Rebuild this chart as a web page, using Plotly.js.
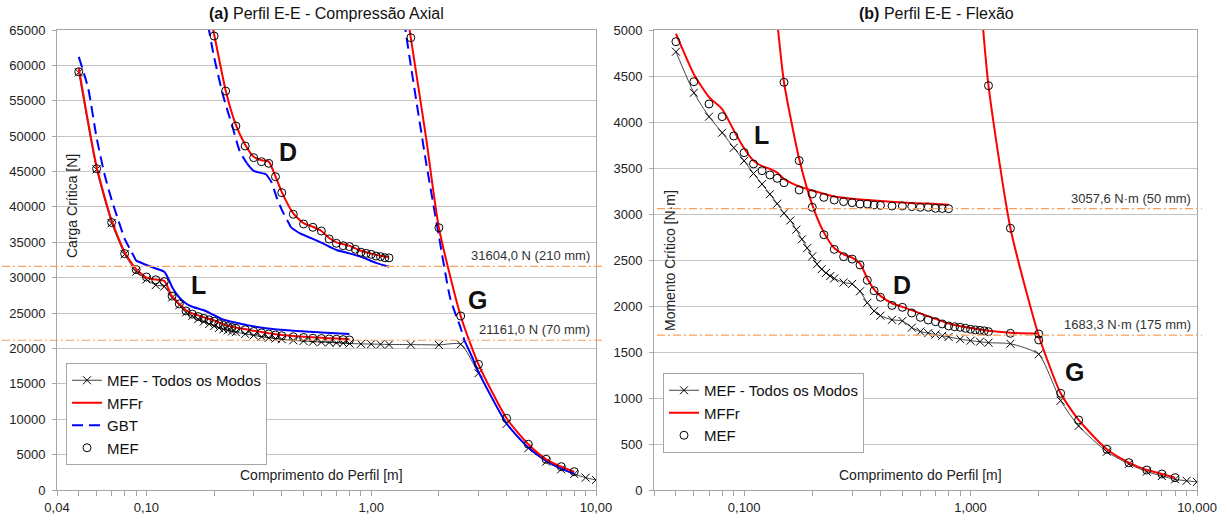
<!DOCTYPE html>
<html><head><meta charset="utf-8">
<script src="https://cdn.plot.ly/plotly-3.0.1.min.js"></script>
<style>html,body{margin:0;padding:0;background:#fff}#chart{width:1227px;height:520px}</style>
</head><body><div id="chart"></div>
<script>
// ===== (a) Perfil E-E - Compressão Axial =====
const aAllX = [0.05,0.06,0.07,0.08,0.09,0.10,0.11,0.12,0.13,0.14,0.15,0.16,0.17,0.18,0.19,0.20,0.21,0.22,0.23,0.24,0.25,0.275,0.30,0.325,0.35,0.375,0.40,0.45,0.50,0.55,0.60,0.65,0.70,0.75,0.80,0.90,1.0,1.1,1.2,1.5,2.0,2.5,3,4,5,6,7,8,9,10];
const aAllY = [59000,45300,37700,33300,30850,29750,28950,28750,27200,26100,25100,24600,24150,23800,23450,23150,22900,22700,22550,22400,22300,22050,21850,21650,21500,21400,21300,21150,21050,20950,20900,20850,20800,20750,20700,20650,20620,20600,20560,20550,20500,20600,16500,9330,5900,4000,2920,2260,1740,1420];

const aMefLX = [0.05,0.06,0.07,0.08,0.09,0.10,0.11,0.12,0.13,0.14,0.15,0.16,0.17,0.18,0.19,0.20,0.21,0.22,0.23,0.24,0.25,0.275,0.30,0.325,0.35,0.375,0.40,0.45,0.50,0.55,0.60,0.65,0.70,0.75,0.80];
const aMefLY = [59100,45400,37800,33400,31150,30100,29700,29450,27400,26300,25300,24850,24500,24250,24050,23850,23500,23250,23100,22950,22850,22650,22400,22200,22050,21900,21800,21650,21550,21450,21400,21350,21300,21250,21200];
const aMffrLX = [0.05,0.06,0.07,0.08,0.09,0.10,0.11,0.12,0.13,0.14,0.15,0.16,0.18,0.20,0.22,0.25,0.30,0.35,0.40,0.50,0.60,0.70,0.80];
const aMffrLY = [59600,45700,38100,33600,31200,30000,29750,29550,27350,26300,25400,24950,24400,23950,23400,22950,22500,22150,21900,21650,21500,21400,21300];
const aGbtLX = [0.05,0.055,0.06,0.065,0.07,0.075,0.08,0.085,0.09,0.10,0.11,0.12,0.125,0.13,0.14,0.15,0.16,0.18,0.20,0.22,0.25,0.28,0.34,0.45,0.63,0.80];
const aGbtLY = [61200,56800,49800,44700,41000,38100,35500,33900,32400,31800,31300,30850,29900,28700,27200,26350,25900,25400,24700,24050,23650,23300,22850,22500,22230,22040];

const aMefDX = [0.2,0.225,0.25,0.275,0.3,0.325,0.35,0.375,0.4,0.45,0.5,0.55,0.6,0.65,0.7,0.75,0.8,0.85,0.9,0.95,1.0,1.05,1.1,1.15,1.2];
const aMefDY = [64150,56380,51430,48610,46960,46390,46160,44270,42010,38960,37590,37120,36600,35470,34860,34520,34400,34010,33600,33440,33300,33060,32970,32820,32800];
const aMffrDX = [0.19,0.2,0.225,0.25,0.275,0.3,0.325,0.35,0.375,0.4,0.45,0.5,0.55,0.6,0.65,0.7,0.8,0.9,1.0,1.1,1.2];
const aMffrDY = [67500,64400,56500,51600,48800,47100,46600,46400,44300,42100,39100,37700,37200,36600,35600,35000,34500,33800,33400,33100,32900];
const aGbtDX = [0.188,0.2,0.22,0.24,0.26,0.28,0.3,0.34,0.36,0.38,0.4,0.44,0.48,0.53,0.6,0.7,0.8,0.9,1.05,1.2];
const aGbtDY = [65700,61150,55570,51600,47900,46160,45100,44650,43500,41300,39600,37100,36300,35700,34950,33910,33440,32950,32100,31550];

const aMefGX = [1.5,2,2.5,3,4,5,6,7,8];
const aMefGY = [63910,37060,24590,17760,10130,6460,4340,3300,2590];
const aMffrGX = [1.45,1.5,1.75,2,2.5,3,4,5,6,7,8];
const aMffrGY = [67000,63900,50000,37060,24590,17760,10130,6460,4340,3300,2590];
const aGbtGX = [1.4,1.5,1.75,2,2.25,2.5,2.6,2.8,3,4,5,6,7,8];
const aGbtGY = [66300,60000,46500,35900,27000,22900,21100,18900,16700,9400,6000,4150,3050,2300];

const aRefY = [31604, 21161];
const aRefLabels = ["31604,0 N (210 mm)", "21161,0 N (70 mm)"];

// ===== (b) Perfil E-E - Flexão =====
const bAllX = [0.05,0.06,0.07,0.08,0.09,0.10,0.11,0.12,0.13,0.14,0.15,0.16,0.17,0.18,0.19,0.20,0.21,0.22,0.23,0.24,0.25,0.275,0.30,0.325,0.35,0.375,0.40,0.45,0.50,0.55,0.60,0.65,0.70,0.75,0.80,0.90,1.0,1.1,1.2,1.5,2.0,2.5,3,4,5,6,7,8,9,10];
const bAllY = [4764,4318,4058,3884,3720,3578,3440,3325,3215,3112,3008,2930,2830,2725,2630,2540,2455,2400,2360,2325,2300,2255,2240,2160,2035,1945,1895,1850,1838,1765,1722,1705,1690,1676,1664,1640,1623,1612,1601,1590,1475,971,696,416,283,199,152,116,100,88];

const bMefLX = [0.05,0.06,0.07,0.08,0.09,0.10,0.11,0.12,0.13,0.14,0.15,0.175,0.2,0.225,0.25,0.275,0.3,0.325,0.35,0.375,0.4,0.45,0.5,0.55,0.6,0.65,0.7,0.75,0.8];
const bMefLY = [4873,4438,4196,4058,3848,3667,3544,3471,3424,3388,3340,3261,3218,3181,3152,3134,3123,3109,3109,3098,3094,3087,3087,3080,3073,3073,3062,3060,3058];
const bMffrLX = [0.05,0.06,0.07,0.08,0.09,0.10,0.11,0.12,0.13,0.14,0.15,0.175,0.2,0.25,0.3,0.4,0.5,0.6,0.7,0.8];
const bMffrLY = [4960,4520,4270,4140,3910,3714,3580,3520,3490,3450,3380,3300,3255,3190,3165,3140,3125,3115,3110,3100];

const bMefDX = [0.15,0.175,0.2,0.225,0.25,0.275,0.3,0.325,0.35,0.375,0.4,0.45,0.5,0.55,0.6,0.65,0.7,0.75,0.8,0.85,0.9,0.95,1.0,1.05,1.1,1.15,1.2,1.5,2.0];
const bMefDY = [4432,3580,3073,2775,2616,2536,2510,2446,2280,2166,2095,2006,1986,1924,1877,1848,1829,1805,1783,1775,1769,1758,1747,1740,1735,1730,1721,1703,1696];
const bMffrDX = [0.14,0.15,0.175,0.2,0.225,0.25,0.275,0.3,0.325,0.35,0.375,0.4,0.45,0.5,0.6,0.7,0.8,1.0,1.2,1.5,2.0];
const bMffrDY = [5100,4432,3600,3100,2800,2630,2560,2525,2460,2300,2180,2110,2030,1990,1920,1860,1810,1760,1730,1710,1700];

const bMefGX = [1.2,1.5,2.0,2.5,3,4,5,6,7,8];
const bMefGY = [4395,2845,1631,1051,761,442,297,217,174,134];
const bMffrGX = [1.1,1.2,1.5,2.0,2.5,3,4,5,6,7,8];
const bMffrGY = [5430,4395,2845,1680,1051,761,442,297,217,174,134];

const bRefY = [3057.6, 1683.3];
const bRefLabels = ["3057,6 N·m (50 mm)", "1683,3 N·m (175 mm)"];

// tick labels
const xTickMain = [0.04, 0.1, 1, 10];
const aXTickText = ["0,04", "0,10", "1,00", "10,00"];
const bXTickText = ["", "0,100", "1,000", "10,000"];

// ===== build =====
const FONT = 'Arial, "Liberation Sans", sans-serif';
const RED = '#ff0000', BLUE = '#0000ff', ORANGE = '#f9a05c';

function allTicks() {
  const v = [];
  [0.01, 0.1, 1].forEach(d => { for (let k = 1; k <= 9; k++) { const t = +(k * d).toPrecision(3); if (t >= 0.04) v.push(t); } });
  v.push(10);
  return v;
}
const tv = allTicks();
function tickText(texts) {
  return tv.map(t => { const i = xTickMain.findIndex(m => Math.abs(m - t) < 1e-9); return i >= 0 ? texts[i] : ''; });
}

function blackAll(x, y, xa, ya, lg) {
  return {x, y, xaxis: xa, yaxis: ya, legend: lg, name: 'MEF - Todos os Modos', legendrank: 1,
    mode: 'lines+markers', line: {color: '#444', width: 1, shape: 'spline', smoothing: 0.6},
    marker: {symbol: 'x-thin', size: 8, color: '#000', line: {color: '#000', width: 1}}};
}
function redLine(x, y, xa, ya, lg, show) {
  return {x, y, xaxis: xa, yaxis: ya, legend: lg, name: 'MFFr', legendrank: 2, showlegend: show,
    mode: 'lines', line: {color: RED, width: 2, shape: 'spline', smoothing: 0.6}};
}
function blueSegs(x, y, segs, xa, ya, lg, showFirst) {
  return segs.map((s, i) => ({x: x.slice(s[0], s[1] + 1), y: y.slice(s[0], s[1] + 1), xaxis: xa, yaxis: ya, legend: lg,
    name: 'GBT', legendrank: 3, showlegend: showFirst && i === 0, mode: 'lines',
    line: {color: BLUE, width: 2, dash: s[2] === 'dash' ? '11px,6px' : 'solid', shape: 'spline', smoothing: 0.6}}));
}
function circles(x, y, xa, ya, lg, show) {
  return {x, y, xaxis: xa, yaxis: ya, legend: lg, name: 'MEF', legendrank: 4, showlegend: show,
    mode: 'markers', marker: {symbol: 'circle-open', size: 8, color: '#000', line: {width: 1}}};
}

const traces = [
  blackAll(aAllX, aAllY, 'x', 'y', 'legend'),
  ...blueSegs(aGbtLX, aGbtLY, [[0, 8, 'dash'], [8, aGbtLX.length - 1, 'solid']], 'x', 'y', 'legend', true),
  ...blueSegs(aGbtDX, aGbtDY, [[0, 5, 'dash'], [5, 7, 'solid'], [7, 11, 'dash'], [11, aGbtDX.length - 1, 'solid']], 'x', 'y', 'legend', false),
  ...blueSegs(aGbtGX, aGbtGY, [[0, 6, 'dash'], [6, aGbtGX.length - 1, 'solid']], 'x', 'y', 'legend', false),
  redLine(aMffrLX, aMffrLY, 'x', 'y', 'legend', true),
  redLine(aMffrDX, aMffrDY, 'x', 'y', 'legend', false),
  redLine(aMffrGX, aMffrGY, 'x', 'y', 'legend', false),
  circles(aMefLX, aMefLY, 'x', 'y', 'legend', true),
  circles(aMefDX, aMefDY, 'x', 'y', 'legend', false),
  circles(aMefGX, aMefGY, 'x', 'y', 'legend', false),

  blackAll(bAllX, bAllY, 'x2', 'y2', 'legend2'),
  redLine(bMffrLX, bMffrLY, 'x2', 'y2', 'legend2', true),
  redLine(bMffrDX, bMffrDY, 'x2', 'y2', 'legend2', false),
  redLine(bMffrGX, bMffrGY, 'x2', 'y2', 'legend2', false),
  circles(bMefLX, bMefLY, 'x2', 'y2', 'legend2', true),
  circles(bMefDX, bMefDY, 'x2', 'y2', 'legend2', false),
  circles(bMefGX, bMefGY, 'x2', 'y2', 'legend2', false)
];

// geometry helpers (paper coords from pixel positions of the 1227x520 page)
const L = 57, R = 30, T = 30, B = 30, W = 1227 - L - R, H = 520 - T - B;
const px = v => (v - L) / W;
const py = v => (520 - B - v) / H;

const xBase = {type: 'log', range: [Math.log10(0.04), 1], showgrid: false, zeroline: false,
  showline: true, linecolor: '#a6a6a6', linewidth: 1, mirror: true,
  ticks: 'outside', ticklen: 5, tickcolor: '#a6a6a6', tickvals: tv,
  tickfont: {family: FONT, size: 13, color: '#222'}};
const yBase = {showgrid: true, gridcolor: '#c4c4c4', gridwidth: 1, zeroline: false,
  showline: true, linecolor: '#a6a6a6', linewidth: 1, mirror: true,
  ticks: 'outside', ticklen: 4, tickcolor: '#a6a6a6', tickformat: 'd', ticklabelstandoff: 4,
  tickfont: {family: FONT, size: 13, color: '#222'}};

const ann = [];
function txt(x, y, text, o) { ann.push(Object.assign({xref: 'paper', yref: 'paper', x: px(x), y: py(y), text, showarrow: false,
  xanchor: 'center', yanchor: 'middle', font: {family: FONT, size: 14, color: '#222'}}, o || {})); }
txt(326.5, 13, '<b>(a)</b> Perfil E-E - Compressão Axial', {font: {family: FONT, size: 16, color: '#111'}});
txt(936, 13, '<b>(b)</b> Perfil E-E - Flexão', {font: {family: FONT, size: 16, color: '#111'}});
txt(72, 206, 'Carga Crítica [N]', {textangle: -90});
txt(670, 261, 'Momento Crítico [N·m]', {textangle: -90});
txt(321, 475, 'Comprimento do Perfil [m]');
txt(920, 475, 'Comprimento do Perfil [m]');
const big = {font: {family: FONT, size: 25, color: '#111'}};
txt(288, 152, '<b>D</b>', big); txt(198, 285, '<b>L</b>', big); txt(477, 300, '<b>G</b>', big);
txt(761, 135, '<b>L</b>', big); txt(902, 285, '<b>D</b>', big); txt(1074, 372, '<b>G</b>', big);

const shapes = [];
const refLine = {color: ORANGE, width: 1.2, dash: '8px,3px,2px,3px'};
aRefY.forEach((v, i) => {
  shapes.push({type: 'line', xref: 'paper', yref: 'y', x0: px(2), x1: px(602), y0: v, y1: v, line: refLine});
  ann.push({xref: 'paper', yref: 'y', x: px(592), y: v, text: aRefLabels[i], showarrow: false, xanchor: 'right', yanchor: 'bottom', yshift: 1,
    font: {family: FONT, size: 13, color: '#333'}});
});
bRefY.forEach((v, i) => {
  shapes.push({type: 'line', xref: 'paper', yref: 'y2', x0: px(657), x1: px(1202), y0: v, y1: v, line: refLine});
  ann.push({xref: 'paper', yref: 'y2', x: px(1193), y: v, text: bRefLabels[i], showarrow: false, xanchor: 'right', yanchor: 'bottom', yshift: 1,
    font: {family: FONT, size: 13, color: '#333'}});
});

const legBase = {xanchor: 'left', yanchor: 'top', bgcolor: '#fff', bordercolor: '#a6a6a6', borderwidth: 1,
  font: {family: FONT, size: 15, color: '#111'}, itemwidth: 30, tracegroupgap: 0, traceorder: 'normal'};

const layout = {
  width: 1227, height: 520, margin: {l: L, r: R, t: T, b: B}, paper_bgcolor: '#fff', plot_bgcolor: '#fff',
  font: {family: FONT}, separators: ',.',
  xaxis: Object.assign({}, xBase, {domain: [0, px(596)], anchor: 'y', ticktext: tickText(aXTickText)}),
  yaxis: Object.assign({}, yBase, {domain: [0, 1], anchor: 'x', range: [0, 65000], dtick: 5000}),
  xaxis2: Object.assign({}, xBase, {domain: [px(654), 1], anchor: 'y2', ticktext: tickText(bXTickText)}),
  yaxis2: Object.assign({}, yBase, {domain: [0, 1], anchor: 'x2', range: [0, 5000], dtick: 500}),
  legend: Object.assign({}, legBase, {x: px(66), y: py(363)}),
  legend2: Object.assign({}, legBase, {x: px(663), y: py(373)}),
  annotations: ann, shapes: shapes, showlegend: true
};

Plotly.newPlot('chart', traces, layout, {staticPlot: true, displayModeBar: false});
</script>
</body></html>
